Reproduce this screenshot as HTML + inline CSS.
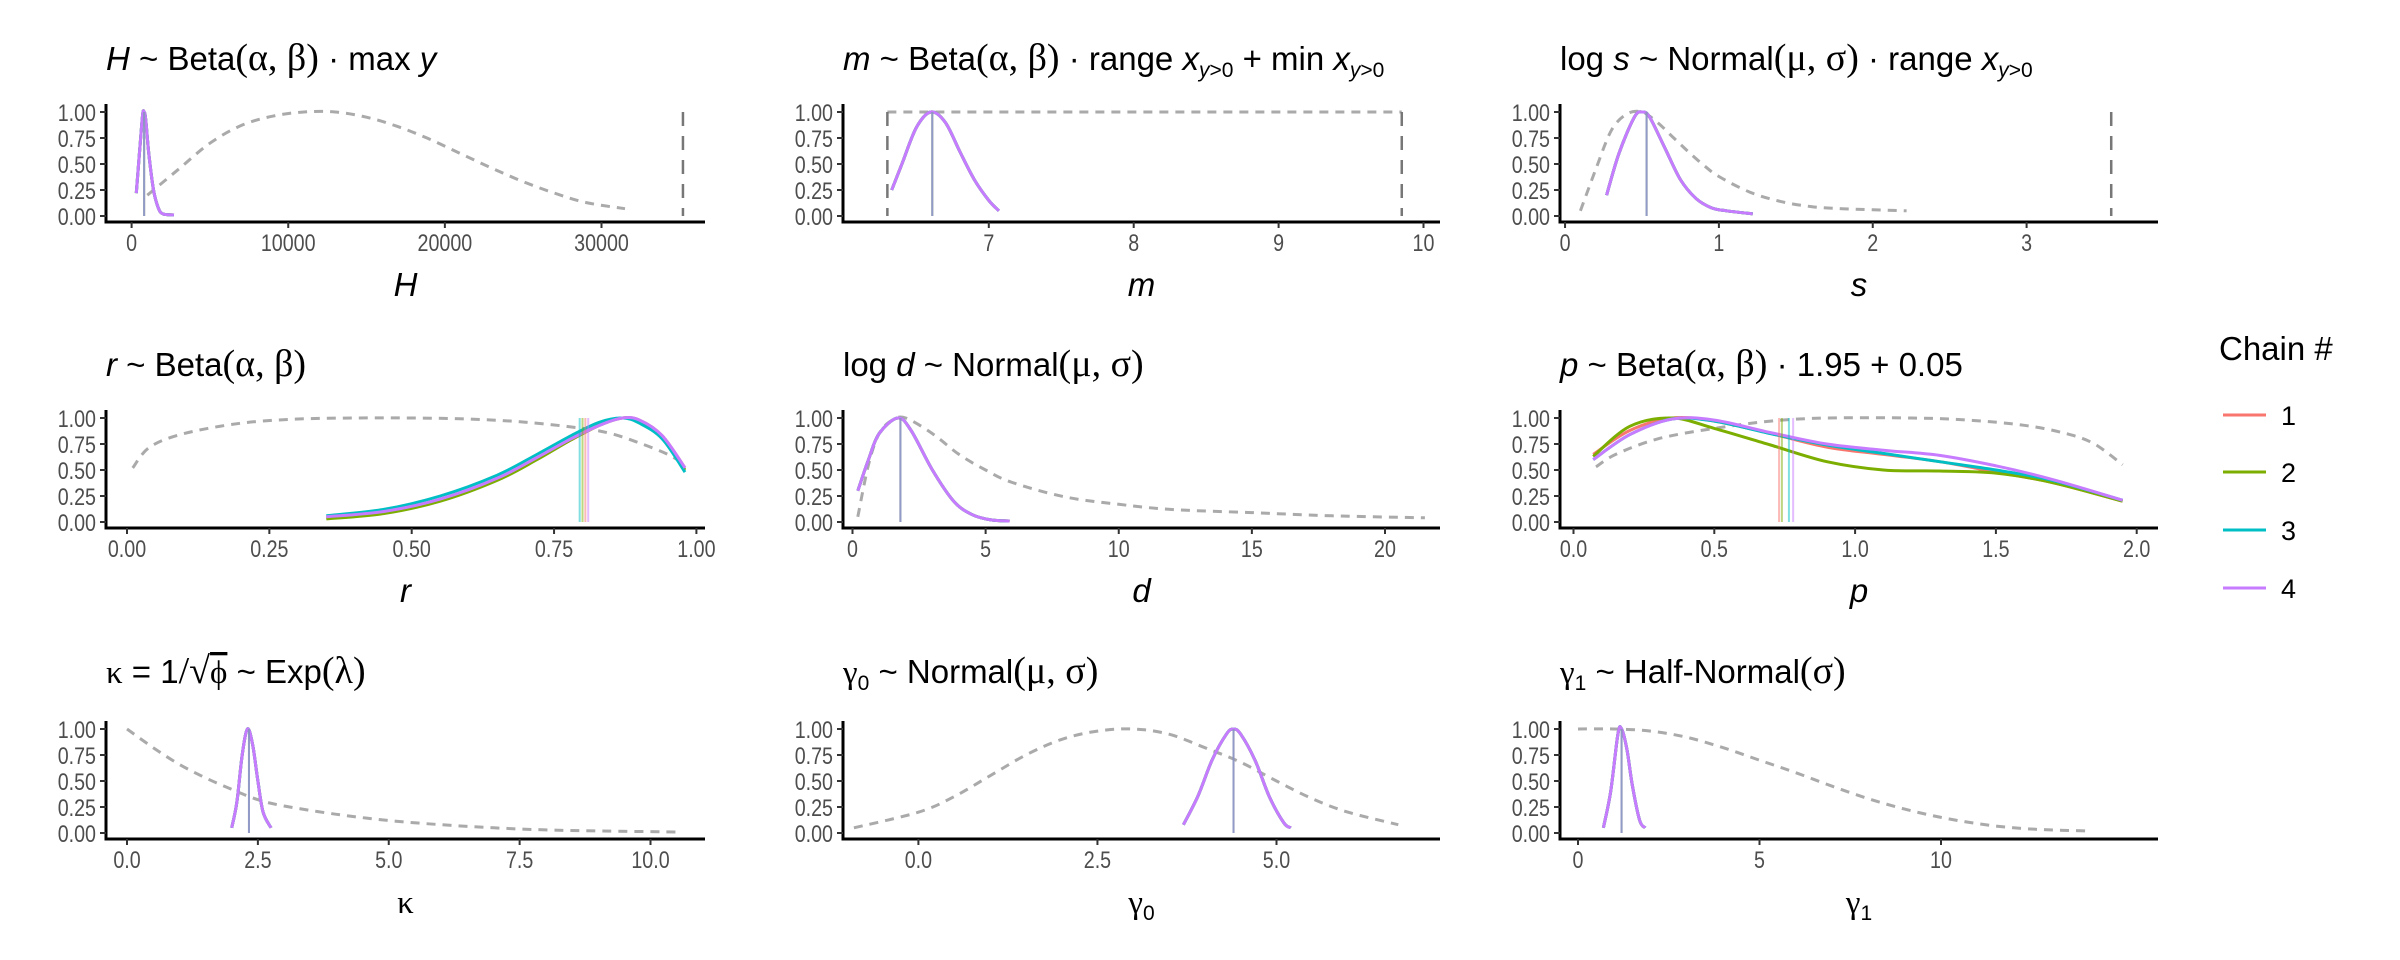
<!DOCTYPE html>
<html><head><meta charset="utf-8">
<style>
html,body{margin:0;padding:0;background:#fff;}
svg{display:block;}
.tt{font-family:"Liberation Sans",sans-serif;font-size:33px;fill:#000;}
.gr{font-family:"Liberation Serif",serif;}
.tick{font-family:"Liberation Sans",sans-serif;font-size:24px;fill:#4d4d4d;}
.axt{font-family:"Liberation Sans",sans-serif;font-size:33px;fill:#000;}
</style></head>
<body>
<svg id="chart" width="2400" height="960" viewBox="0 0 2400 960" xmlns="http://www.w3.org/2000/svg">
<g id="titles">
<text class="tt" x="106" y="70"><tspan font-style="italic">H</tspan> ~ Beta<tspan class="gr" font-size="38">(α, β)</tspan> · max <tspan font-style="italic">y</tspan></text>
<text class="tt" x="843" y="70"><tspan font-style="italic">m</tspan> ~ Beta<tspan class="gr" font-size="38">(α, β)</tspan> · range <tspan font-style="italic">x</tspan><tspan font-size="21" dy="7"><tspan font-style="italic">y</tspan>&gt;0</tspan><tspan dy="-7"> + min </tspan><tspan font-style="italic">x</tspan><tspan font-size="21" dy="7"><tspan font-style="italic">y</tspan>&gt;0</tspan></text>
<text class="tt" x="1560" y="70">log <tspan font-style="italic">s</tspan> ~ Normal<tspan class="gr" font-size="38">(μ, σ)</tspan> · range <tspan font-style="italic">x</tspan><tspan font-size="21" dy="7"><tspan font-style="italic">y</tspan>&gt;0</tspan></text>
<text class="tt" x="106" y="376"><tspan font-style="italic">r</tspan> ~ Beta<tspan class="gr" font-size="38">(α, β)</tspan></text>
<text class="tt" x="843" y="376">log <tspan font-style="italic">d</tspan> ~ Normal<tspan class="gr" font-size="38">(μ, σ)</tspan></text>
<text class="tt" x="1560" y="376"><tspan font-style="italic">p</tspan> ~ Beta<tspan class="gr" font-size="38">(α, β)</tspan> · 1.95 + 0.05</text>
<text class="tt" x="106" y="683"><tspan class="gr">κ</tspan> = 1<tspan class="gr" font-size="38">/√</tspan><tspan class="gr" text-decoration="overline">ϕ</tspan> ~ Exp<tspan class="gr" font-size="38">(λ)</tspan></text>
<text class="tt" x="843" y="683"><tspan class="gr">γ</tspan><tspan font-size="21" dy="7">0</tspan><tspan dy="-7"> ~ Normal</tspan><tspan class="gr" font-size="38">(μ, σ)</tspan></text>
<text class="tt" x="1560" y="683"><tspan class="gr">γ</tspan><tspan font-size="21" dy="7">1</tspan><tspan dy="-7"> ~ Half-Normal</tspan><tspan class="gr" font-size="38">(σ)</tspan></text>
</g>
<g id="legend">
<text class="tt" x="2219" y="360">Chain #</text>
</g>
</svg>
<script>
const chainColors = ["#F8766D","#7CAE00","#00BFC4","#C77CFF"];
const yTicks = [0,0.25,0.5,0.75,1];
const yTickLabels = ["0.00","0.25","0.50","0.75","1.00"];

// Panel 1: H
const hTicks=[0,10000,20000,30000]; const hTickLabels=["0","10000","20000","30000"];
const hPriorX=[1000,3000,5000,7000,9000,11000,13000,15000,17000,19000,21000,23000,25000,27000,29000,31500];
const hPriorY=[0.2,0.45,0.7,0.87,0.96,1.0,1.0,0.95,0.86,0.74,0.6,0.46,0.33,0.22,0.13,0.07];
const hPostX=[300,500,700,800,900,1100,1400,1700,2000,2700];
const hPostY=[0.22,0.6,0.97,1.0,0.93,0.6,0.25,0.08,0.02,0.01];
const hMedians=[800,800,800,800];
const hBounds=[35200];
// Panel 2: m
const mTicks=[7,8,9,10]; const mTickLabels=["7","8","9","10"];
const mPriorX=[6.3,9.85]; const mPriorY=[1,1];
const mPostX=[6.33,6.4,6.5,6.6,6.7,6.8,6.9,7.0,7.07];
const mPostY=[0.25,0.5,0.85,1.0,0.9,0.62,0.35,0.15,0.05];
const mMedians=[6.61,6.61,6.61,6.61];
const mBounds=[6.3,9.85];
// Panel 3: s
const sTicks=[0,1,2,3]; const sTickLabels=["0","1","2","3"];
const sPriorX=[0.1,0.2,0.3,0.4,0.5,0.6,0.7,0.8,0.9,1.0,1.2,1.4,1.6,1.8,2.0,2.22];
const sPriorY=[0.05,0.45,0.82,0.98,1.0,0.9,0.76,0.62,0.49,0.38,0.23,0.14,0.09,0.07,0.06,0.05];
const sPostX=[0.27,0.35,0.45,0.5,0.55,0.65,0.75,0.85,0.95,1.05,1.22];
const sPostY=[0.2,0.6,0.95,1.0,0.95,0.65,0.35,0.17,0.08,0.05,0.02];
const sMedians=[0.53,0.53,0.53,0.53];
const sBounds=[3.55];
// Panel 4: r
const rTicks=[0,0.25,0.5,0.75,1]; const rTickLabels=["0.00","0.25","0.50","0.75","1.00"];
const rPriorX=[0.01,0.04,0.1,0.2,0.3,0.4,0.5,0.6,0.7,0.8,0.85,0.9,0.95,0.98];
const rPriorY=[0.52,0.72,0.85,0.95,0.99,1.0,1.0,0.99,0.96,0.9,0.85,0.76,0.65,0.55];
const rPostX=[0.35,0.45,0.55,0.65,0.72,0.78,0.83,0.87,0.9,0.94,0.98];
const rPost1=[0.04,0.09,0.21,0.41,0.61,0.79,0.93,1.0,0.98,0.83,0.52];
const rPost2=[0.03,0.08,0.2,0.4,0.6,0.79,0.93,1.0,0.97,0.82,0.5];
const rPost3=[0.06,0.12,0.25,0.45,0.65,0.83,0.96,1.0,0.95,0.8,0.48];
const rPost4=[0.05,0.1,0.22,0.42,0.62,0.8,0.93,1.0,0.98,0.83,0.52];
const rMedians=[0.805,0.8,0.795,0.81];
// Panel 5: d
const dTicks=[0,5,10,15,20]; const dTickLabels=["0","5","10","15","20"];
const dPriorX=[0.2,0.6,1.0,1.5,2,3,4,5,6,8,10,12,15,18,21.5];
const dPriorY=[0.05,0.55,0.85,0.98,1.0,0.85,0.65,0.5,0.38,0.24,0.17,0.12,0.09,0.06,0.04];
const dPostX=[0.2,0.6,1.0,1.7,2.2,3.0,3.8,4.5,5.2,5.9];
const dPostY=[0.3,0.6,0.85,1.0,0.88,0.5,0.2,0.07,0.02,0.01];
const dMedians=[1.8,1.8,1.8,1.8];
// Panel 6: p
const pTicks=[0,0.5,1,1.5,2]; const pTickLabels=["0.0","0.5","1.0","1.5","2.0"];
const pPriorX=[0.08,0.15,0.3,0.5,0.7,0.9,1.2,1.4,1.6,1.75,1.85,1.95];
const pPriorY=[0.53,0.65,0.8,0.9,0.97,1.0,1.0,0.98,0.93,0.85,0.75,0.55];
const pPostX=[0.07,0.2,0.35,0.5,0.7,0.9,1.1,1.3,1.5,1.7,1.95];
const pPost1=[0.65,0.88,1.0,0.97,0.85,0.72,0.65,0.58,0.48,0.38,0.2];
const pPost2=[0.63,0.92,1.0,0.9,0.74,0.58,0.5,0.49,0.47,0.38,0.2];
const pPost3=[0.6,0.84,0.99,0.97,0.85,0.74,0.66,0.58,0.5,0.4,0.21];
const pPost4=[0.6,0.84,0.99,0.98,0.86,0.75,0.69,0.64,0.54,0.41,0.21];
const pMedians=[0.73,0.74,0.765,0.78];
// Panel 7: kappa
const kTicks=[0,2.5,5,7.5,10]; const kTickLabels=["0.0","2.5","5.0","7.5","10.0"];
const kPriorX=[0,0.5,1,1.5,2,2.5,3,4,5,6,7,8,9,10.5];
const kPriorY=[1.0,0.82,0.66,0.53,0.42,0.32,0.26,0.18,0.12,0.08,0.05,0.03,0.02,0.01];
const kPostX=[2.0,2.1,2.2,2.3,2.4,2.5,2.6,2.75];
const kPostY=[0.05,0.3,0.75,1.0,0.85,0.5,0.2,0.05];
const kMedians=[2.33,2.33,2.33,2.33];
// Panel 8: gamma0
const g0Ticks=[0,2.5,5]; const g0TickLabels=["0.0","2.5","5.0"];
const g0PriorX=[-0.9,0,0.5,1,1.5,2,2.5,3,3.5,4,4.5,5,5.5,6,6.7];
const g0PriorY=[0.05,0.2,0.35,0.55,0.75,0.9,0.98,1.0,0.95,0.82,0.68,0.5,0.33,0.2,0.08];
const g0PostX=[3.7,3.9,4.1,4.3,4.4,4.5,4.7,4.9,5.1,5.2];
const g0PostY=[0.08,0.35,0.7,0.95,1.0,0.95,0.7,0.35,0.1,0.05];
const g0Medians=[4.4,4.4,4.4,4.4];
// Panel 9: gamma1
const g1Ticks=[0,5,10]; const g1TickLabels=["0","5","10"];
const g1PriorX=[0,1,2,3,4,5,6,7,8,9,10,11,12,13,14];
const g1PriorY=[1.0,1.0,0.98,0.92,0.82,0.7,0.58,0.45,0.33,0.23,0.15,0.09,0.05,0.03,0.02];
const g1PostX=[0.7,0.9,1.1,1.2,1.35,1.5,1.7,1.85];
const g1PostY=[0.05,0.4,0.95,1.0,0.8,0.45,0.12,0.05];
const g1Medians=[1.2,1.2,1.2,1.2];

const NS="http://www.w3.org/2000/svg";
const svg=document.getElementById('chart');
const SQ=0.82;
function mk(tag,attrs,parent){const e=document.createElementNS(NS,tag);for(const k in attrs)e.setAttribute(k,attrs[k]);(parent||svg).appendChild(e);return e;}
function smooth(pts){
  if(pts.length<3) return "M"+pts.map(p=>p[0].toFixed(1)+","+p[1].toFixed(1)).join("L");
  let d="M"+pts[0][0].toFixed(1)+","+pts[0][1].toFixed(1);
  for(let i=0;i<pts.length-1;i++){
    const p0=pts[i-1]||pts[i],p1=pts[i],p2=pts[i+1],p3=pts[i+2]||p2;
    const c1=[p1[0]+(p2[0]-p0[0])/6,p1[1]+(p2[1]-p0[1])/6];
    const c2=[p2[0]-(p3[0]-p1[0])/6,p2[1]-(p3[1]-p1[1])/6];
    d+="C"+c1[0].toFixed(1)+","+c1[1].toFixed(1)+" "+c2[0].toFixed(1)+","+c2[1].toFixed(1)+" "+p2[0].toFixed(1)+","+p2[1].toFixed(1);
  }
  return d;
}
const rows=[{y1:112,y0:216,ax:222,lab:251,tit:296},{y1:418,y0:522,ax:528,lab:557,tit:602},{y1:729,y0:833,ax:839,lab:868,tit:913}];
const cols=[{l:106,r:705},{l:843,r:1440},{l:1560,r:2158}];
const panels=[
 {name:"H",row:0,col:0,a:[0,131.6],b:[30000,601.5],ticks:hTicks,tl:hTickLabels,px:hPriorX,py:hPriorY,postX:hPostX,post:[hPostY,hPostY,hPostY,hPostY],med:hMedians,bounds:hBounds,axTitle:"H",ital:true},
 {name:"m",row:0,col:1,a:[7,988.8],b:[10,1423.5],ticks:mTicks,tl:mTickLabels,px:mPriorX,py:mPriorY,postX:mPostX,post:[mPostY,mPostY,mPostY,mPostY],med:mMedians,bounds:mBounds,axTitle:"m",ital:true},
 {name:"s",row:0,col:2,a:[1,1718.9],b:[3,2026.6],ticks:sTicks,tl:sTickLabels,px:sPriorX,py:sPriorY,postX:sPostX,post:[sPostY,sPostY,sPostY,sPostY],med:sMedians,bounds:sBounds,axTitle:"s",ital:true},
 {name:"r",row:1,col:0,a:[0,127],b:[1,696.4],ticks:rTicks,tl:rTickLabels,px:rPriorX,py:rPriorY,postX:rPostX,post:[rPost1,rPost2,rPost3,rPost4],med:rMedians,bounds:[],axTitle:"r",ital:true},
 {name:"d",row:1,col:1,a:[0,852.5],b:[20,1385],ticks:dTicks,tl:dTickLabels,px:dPriorX,py:dPriorY,postX:dPostX,post:[dPostY,dPostY,dPostY,dPostY],med:dMedians,bounds:[],axTitle:"d",ital:true},
 {name:"p",row:1,col:2,a:[0,1573.5],b:[2,2136.7],ticks:pTicks,tl:pTickLabels,px:pPriorX,py:pPriorY,postX:pPostX,post:[pPost1,pPost2,pPost3,pPost4],med:pMedians,bounds:[],axTitle:"p",ital:true},
 {name:"kappa",row:2,col:0,a:[0,127],b:[10,650.5],ticks:kTicks,tl:kTickLabels,px:kPriorX,py:kPriorY,postX:kPostX,post:[kPostY,kPostY,kPostY,kPostY],med:kMedians,bounds:[],axTitle:"κ",ital:false},
 {name:"gamma0",row:2,col:1,a:[0,918.4],b:[5,1276.5],ticks:g0Ticks,tl:g0TickLabels,px:g0PriorX,py:g0PriorY,postX:g0PostX,post:[g0PostY,g0PostY,g0PostY,g0PostY],med:g0Medians,bounds:[],axTitle:"γ",sub:"0",ital:false},
 {name:"gamma1",row:2,col:2,a:[0,1578],b:[10,1941],ticks:g1Ticks,tl:g1TickLabels,px:g1PriorX,py:g1PriorY,postX:g1PostX,post:[g1PostY,g1PostY,g1PostY,g1PostY],med:g1Medians,bounds:[],axTitle:"γ",sub:"1",ital:false}
];
panels.forEach(P=>{
  const R=rows[P.row],C=cols[P.col];
  const sx=v=>P.a[1]+(v-P.a[0])*(P.b[1]-P.a[1])/(P.b[0]-P.a[0]);
  const sy=v=>R.y0-(R.y0-R.y1)*v;
  const g=mk('g',{});
  
  
  if(P.name==="m"){
    const pr=mk('path',{d:"M"+sx(P.px[0])+","+sy(P.py[0])+"L"+sx(P.px[1])+","+sy(P.py[1]),fill:"none",stroke:"#aaaaaa","stroke-width":3,"stroke-dasharray":"9 7"},g);
    
    
  } else {
    const pr=mk('path',{d:smooth(P.px.map((x,i)=>[sx(x),sy(P.py[i])])),fill:"none",stroke:"#aaaaaa","stroke-width":3,"stroke-dasharray":"9 7"},g);
    
    
  }
  P.bounds.forEach(b=>{
    const bl=mk('line',{x1:sx(b),x2:sx(b),y1:R.y1,y2:R.y0,stroke:"#777777","stroke-width":2.5,"stroke-dasharray":"14 10"},g);
    
    
  });
  P.post.forEach((ys,ci)=>{
    const c=mk('path',{d:smooth(P.postX.map((x,i)=>[sx(x),sy(ys[i])])),fill:"none",stroke:chainColors[ci],"stroke-width":3},g);
    
    
  });
  P.med.forEach((m,ci)=>{
    const ml=mk('line',{x1:sx(m),x2:sx(m),y1:R.y1,y2:R.y0,stroke:chainColors[ci],"stroke-width":2,"stroke-opacity":0.5},g);
    
    
  });
  const ya=mk('line',{x1:C.l,x2:C.l,y1:R.y1-8,y2:R.ax,stroke:"#000","stroke-width":3},g);
  
  
  const xa=mk('line',{x1:C.l-1.5,x2:C.r,y1:R.ax,y2:R.ax,stroke:"#000","stroke-width":3},g);
  
  
  yTicks.forEach((t,i)=>{
    mk('line',{x1:C.l-6,x2:C.l,y1:sy(t),y2:sy(t),stroke:"#333","stroke-width":2},g);
    const tx=mk('text',{x:(C.l-10)/SQ,y:sy(t)+9,"text-anchor":"end",class:"tick",transform:"scale("+SQ+",1)"},g);
    tx.textContent=yTickLabels[i];
    
    
  });
  P.ticks.forEach((t,i)=>{
    mk('line',{x1:sx(t),x2:sx(t),y1:R.ax,y2:R.ax+6,stroke:"#333","stroke-width":2},g);
    const tx=mk('text',{x:sx(t)/SQ,y:R.lab,"text-anchor":"middle",class:"tick",transform:"scale("+SQ+",1)"},g);
    tx.textContent=P.tl[i];
    
    
  });
  const at=mk('text',{x:(C.l+C.r)/2,y:R.tit,"text-anchor":"middle",class:"axt"},g);
  
  
  if(P.ital){at.setAttribute('font-style','italic');at.textContent=P.axTitle;}
  else{
    const t1=mk('tspan',{"font-family":"Liberation Serif, serif"},at);t1.textContent=P.axTitle;
    if(P.sub){const t2=mk('tspan',{"font-size":"21",dy:"7"},at);t2.textContent=P.sub;}
  }
});
const legendLabels=["1","2","3","4"];
const legendY=[415,472,530,588];
const lg=document.getElementById('legend');
legendLabels.forEach((l,i)=>{
  const ln=mk('line',{x1:2223,x2:2266,y1:legendY[i],y2:legendY[i],stroke:chainColors[i],"stroke-width":3},lg);
  
  
  const tx=mk('text',{x:2281,y:legendY[i]+10,"font-family":"Liberation Sans, sans-serif","font-size":"27",fill:"#000"},lg);
  tx.textContent=l;
  
  
});
</script>
</body></html>
